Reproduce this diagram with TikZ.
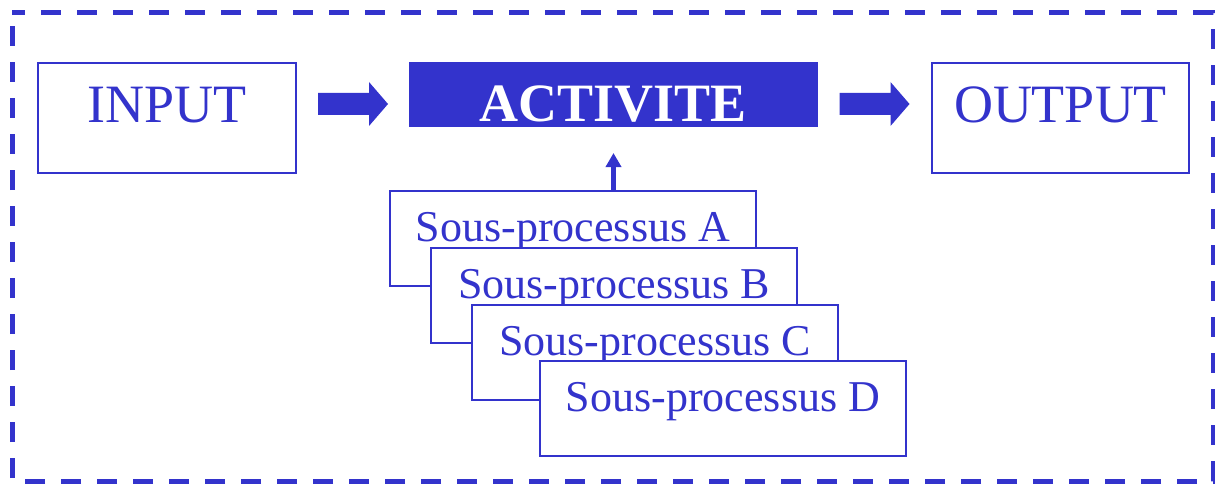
\documentclass[tikz,border=0pt]{standalone}
\usepackage{fontspec}
\setmainfont{Liberation Serif}
\usetikzlibrary{arrows.meta,calc}
\definecolor{blu}{RGB}{51,51,204}
\tikzset{
  box/.style={draw=blu,line width=2pt,fill=white,inner sep=0pt,text=blu,rectangle},
  bigbox/.style={box,minimum width=258pt,minimum height=110pt,text height=40pt,text depth=30pt,font=\fontsize{54}{60}\selectfont},
  actbox/.style={box,fill=blu,text=white,minimum width=407pt,minimum height=63pt,text height=58pt,text depth=3pt,font=\bfseries\fontsize{54}{60}\selectfont},
  subbox/.style={box,minimum width=366pt,minimum height=95pt,text height=35pt,text depth=30pt,font=\fontsize{44}{50}\selectfont},
  blockarrow/.pic={\fill[blu] (-35,-11) -- ++(51,0) -- ++(0,-11) -- ++(19,22) -- ++(-19,22) -- ++(0,-11) -- ++(-51,0) -- cycle;},
  frameline/.style={draw=blu,line width=5pt,dash pattern=on 20pt off 16pt,dash phase=7pt}
}
\begin{document}
\begin{tikzpicture}[x=1pt,y=-1pt]
\useasboundingbox (0,0) rectangle (1215,484);
\draw[frameline] (12,13) -- (1213,13) -- (1213,481) -- (12,481) -- cycle;

\node[bigbox] (input) at (167,118) {INPUT};
\node[actbox] (activite) at (613.5,94.5) {ACTIVITE};
\node[bigbox,minimum width=257pt] (output) at (1060.5,118) {OUTPUT};

\pic at (353,104) {blockarrow};
\pic at (874.5,104) {blockarrow};

\node[subbox] (sA) at (573,238.5) {Sous-processus A};
\node[subbox] (sB) at (614,295.5) {Sous-processus B};
\node[subbox] (sC) at (655,352.5) {Sous-processus C};
\node[subbox] (sD) at (723,408.5) {Sous-processus D};

\draw[blu,line width=5pt,-{Triangle[width=15pt,length=14pt]},shorten >=26pt] (activite.south |- sA.north) -- (activite.south);
\end{tikzpicture}
\end{document}
